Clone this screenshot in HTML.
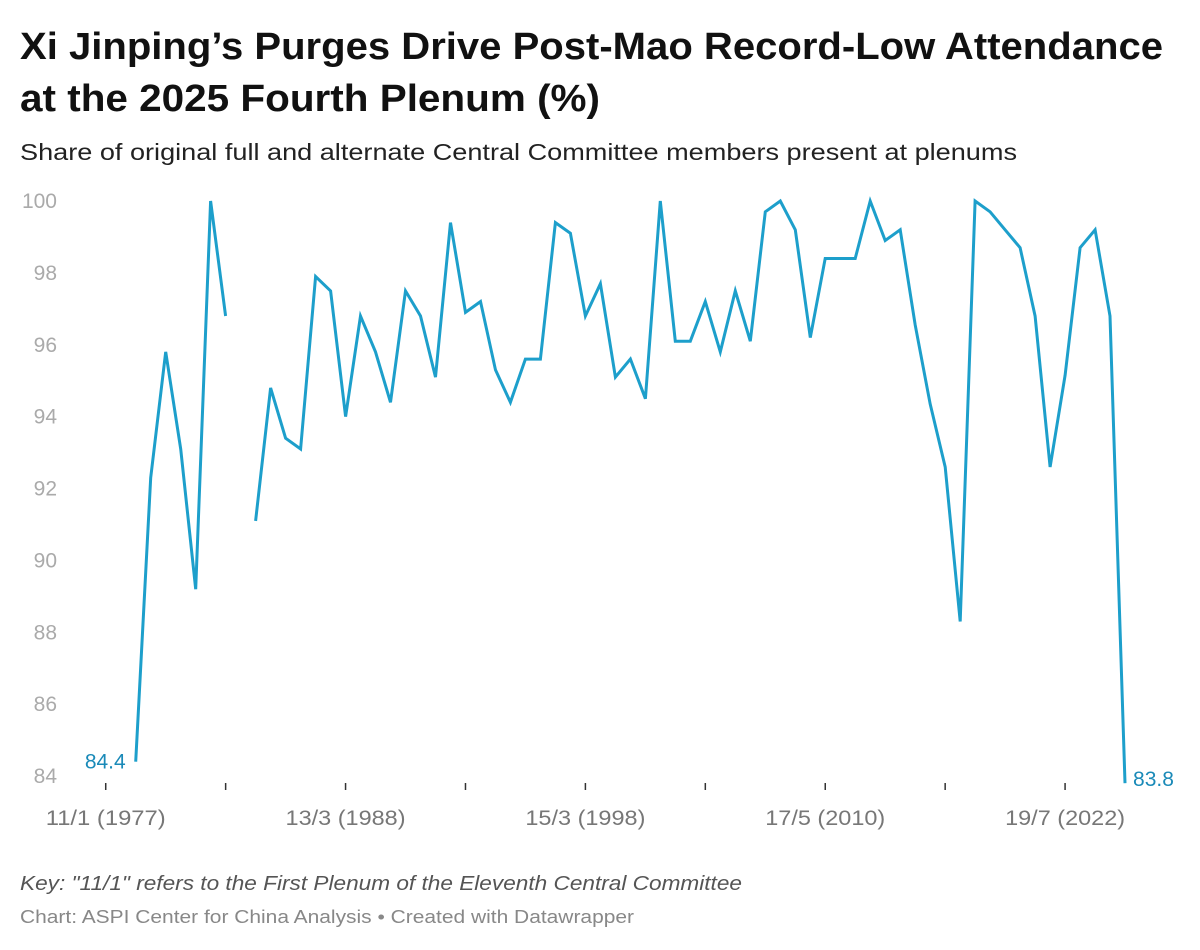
<!DOCTYPE html>
<html><head><meta charset="utf-8"><style>
html,body{margin:0;padding:0;background:#fff;}
svg{display:block;font-family:"Liberation Sans",Arial,sans-serif;}
</style></head><body>
<svg id="chart" width="1200" height="950" viewBox="0 0 1200 950">
<text x="20" y="59" font-size="38" font-weight="bold" fill="#111" textLength="1143" lengthAdjust="spacingAndGlyphs">Xi Jinping’s Purges Drive Post-Mao Record-Low Attendance</text>
<text x="20" y="111" font-size="38" font-weight="bold" fill="#111" textLength="580" lengthAdjust="spacingAndGlyphs">at the 2025 Fourth Plenum (%)</text>
<text x="20" y="160" font-size="23" fill="#222" textLength="997" lengthAdjust="spacingAndGlyphs">Share of original full and alternate Central Committee members present at plenums</text>
<g id="yaxis"></g>
<g id="xaxis"></g>
<g id="series"></g>
<text x="20" y="890" font-size="20" font-style="italic" fill="#555" textLength="722" lengthAdjust="spacingAndGlyphs">Key: "11/1" refers to the First Plenum of the Eleventh Central Committee</text>
<text x="20" y="923" font-size="18" fill="#888" textLength="614" lengthAdjust="spacingAndGlyphs">Chart: ASPI Center for China Analysis • Created with Datawrapper</text>
</svg>
<script>
const values = [84.4,92.3,95.8,93.1,89.2,100,96.8,null,91.1,94.8,93.4,93.1,97.9,97.5,94.0,96.8,95.8,94.4,97.5,96.8,95.1,99.4,96.9,97.2,95.3,94.4,95.6,95.6,99.4,99.1,96.8,97.7,95.1,95.6,94.5,100,96.1,96.1,97.2,95.8,97.5,96.1,99.7,100,99.2,96.2,98.4,98.4,98.4,100,98.9,99.2,96.55,94.35,92.6,88.3,100,99.7,99.2,98.7,96.8,92.6,95.15,98.7,99.2,96.8,83.8];
const yTicks = [84,86,88,90,92,94,96,98,100];
const xTickIdx = [-2,6,14,22,30,38,46,54,62];
const xTickLabels = ["11/1 (1977)","","13/3 (1988)","","15/3 (1998)","","17/5 (2010)","","19/7 (2022)"];
const NS="http://www.w3.org/2000/svg";
const x = i => 135.7 + i*14.99;
const y = v => 201 + (100-v)*35.94;
function mk(tag, attrs, parent){const e=document.createElementNS(NS,tag);for(const k in attrs)e.setAttribute(k,attrs[k]);parent.appendChild(e);return e;}
const ya=document.getElementById('yaxis'), xa=document.getElementById('xaxis'), sg=document.getElementById('series');
yTicks.forEach(t=>{
  const el=mk('text',{x:57,y:y(t)+7,'font-size':21,fill:'#aaa','text-anchor':'end'},ya);
  el.textContent=t;
  
  
});
xTickIdx.forEach((ti,k)=>{
  const tk=mk('line',{x1:x(ti),x2:x(ti),y1:783,y2:790,stroke:'#333','stroke-width':1.5},xa);
  
  
  if(xTickLabels[k]){
    const el=mk('text',{x:x(ti),y:825,'font-size':21,fill:'#777','text-anchor':'middle',textLength:120,lengthAdjust:'spacingAndGlyphs'},xa);
    el.textContent=xTickLabels[k];
    
    
  }
});
let d='', pen=false;
values.forEach((v,i)=>{
  if(v===null){pen=false;return;}
  d+=(pen?'L':'M')+x(i).toFixed(1)+','+y(v).toFixed(1);
  pen=true;
});
const path=mk('path',{d:d,fill:'none',stroke:'#1d9fcb','stroke-width':3,'stroke-linejoin':'miter'},sg);


const first=values[0], last=values[values.length-1];
const l1=mk('text',{x:x(0)-10,y:y(first)+7,'font-size':21,fill:'#1a8ab8','text-anchor':'end'},sg);
l1.textContent=first.toFixed(1);


const l2=mk('text',{x:x(values.length-1)+8,y:y(last)+3,'font-size':21,fill:'#1a8ab8','text-anchor':'start'},sg);
l2.textContent=last.toFixed(1);


</script>
</body></html>
